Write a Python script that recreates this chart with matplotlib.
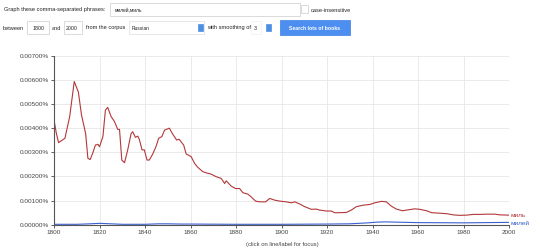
import matplotlib.pyplot as plt
from matplotlib.patches import Rectangle

plt.rcParams['font.family'] = ['Liberation Sans', 'DejaVu Sans']

# миль (red), values in percent
years_a = [1800, 1801, 1802, 1804.8, 1806.9, 1808.9, 1810.7, 1812.1, 1813.9, 1814.9,
           1815.9, 1817, 1818.2, 1819.3, 1820, 1821.5, 1822.6, 1823.6, 1825.1, 1826.6,
           1828, 1828.8, 1829.8, 1831, 1832.4, 1833.9, 1834.6, 1835.8, 1836.8, 1837.5,
           1838.7, 1839.7, 1840.9, 1841.9, 1843.4, 1844.8, 1846, 1847.4, 1848.6, 1850.7,
           1852, 1853.9, 1855, 1857, 1858.1, 1860.3, 1861.8, 1863.2, 1865.4, 1866.9,
           1869, 1871.3, 1873.5, 1875, 1875.7, 1877.9, 1879.8, 1881.6, 1883, 1885.2,
           1886.6, 1888.6, 1890.4, 1893, 1894.8, 1897, 1899.2, 1902.1, 1904.3, 1905.8,
           1908, 1910.2, 1913.1, 1915.3, 1916.7, 1919.7, 1921.9, 1923.3, 1925.6, 1928.5,
           1930.7, 1932.9, 1935.8, 1938.8, 1941, 1943.9, 1946.1, 1948.3, 1950.5, 1953.2,
           1955.7, 1958.6, 1960.8, 1963.8, 1966, 1969.6, 1972.6, 1975.5, 1978.4, 1981.4,
           1984.3, 1987.2, 1990.2, 1993.8, 1996, 2000]
vals_a = [0.00434, 0.0038, 0.0034, 0.00358, 0.00448, 0.00593, 0.0055, 0.00454, 0.00378, 0.00275,
          0.0027, 0.00296, 0.0033, 0.00333, 0.00323, 0.00365, 0.00475, 0.00486, 0.00448, 0.00427,
          0.00395, 0.00395, 0.00268, 0.00257, 0.0031, 0.00378, 0.00385, 0.00362, 0.00367, 0.00354,
          0.0031, 0.0031, 0.00268, 0.00268, 0.00293, 0.00323, 0.00358, 0.00365, 0.00392, 0.004,
          0.00378, 0.00351, 0.00354, 0.0033, 0.00293, 0.00282, 0.00254, 0.00238, 0.0022, 0.00215,
          0.0021, 0.00199, 0.00192, 0.00171, 0.00182, 0.0016, 0.0015, 0.0015, 0.00133, 0.00127,
          0.00116, 0.00098, 0.00095, 0.00095, 0.00109, 0.00102, 0.00098, 0.00095, 0.00091, 0.00095,
          0.00086, 0.00075, 0.00064, 0.00065, 0.00061, 0.00057, 0.00057, 0.0005, 0.0005, 0.00051,
          0.00061, 0.00075, 0.00081, 0.00084, 0.00091, 0.00097, 0.00095, 0.00077, 0.00065, 0.00058,
          0.00062, 0.00066, 0.00064, 0.00058, 0.0005, 0.00048, 0.00046, 0.00041, 0.00039, 0.0004,
          0.00043, 0.00043, 0.00044, 0.00044, 0.00041, 0.0004]

# милей (blue)
years_b = [1800, 1810, 1816, 1820, 1825, 1830, 1840, 1846, 1850, 1856, 1860, 1880,
           1900, 1920, 1930, 1938, 1942, 1946, 1950, 1960, 1980, 2000]
vals_b = [0.00002, 0.00002, 0.00004, 0.00006, 0.00004, 0.00002, 0.00002, 0.00004, 0.00004, 0.00003,
          0.00003, 0.00002, 0.00002, 0.00003, 0.00004, 0.00008, 0.00011, 0.00012, 0.00011, 0.00009,
          0.00008, 0.0001]

y_ticks = [0, 0.001, 0.002, 0.003, 0.004, 0.005, 0.006, 0.007]
x_ticks = [1800, 1820, 1840, 1860, 1880, 1900, 1920, 1940, 1960, 1980, 2000]

red = '#b3373a'
blue = '#3a5fcd'
fs = 4.6
hs = 4.1  # header font size

fig = plt.figure(figsize=(5.4, 2.52), dpi=100)
ax = fig.add_axes([0.1, 0.108, 0.8426, 0.671])

ax.plot(years_a, vals_a, color=red, lw=0.8)
ax.plot(years_b, vals_b, color=blue, lw=0.8)
ax.set_xlim(1800, 2000)
ax.set_ylim(0, 0.007)
ax.set_xticks(x_ticks)
ax.set_yticks(y_ticks)
ax.set_yticklabels(['%.5f%%' % v for v in y_ticks])
ax.tick_params(labelsize=fs, colors='#444444', length=2, width=0.6, pad=1.5)
ax.grid(True, color='#e6e6e6', lw=0.6)
ax.set_axisbelow(True)
for s in ['top', 'right']:
    ax.spines[s].set_visible(False)
for s in ['left', 'bottom']:
    ax.spines[s].set_color('#555555')
    ax.spines[s].set_linewidth(0.8)

ax.text(2000.8, vals_a[-1], 'миль', color=red, fontsize=fs, va='center', ha='left')
ax.text(2000.8, vals_b[-1] - 0.00003, 'милей', color=blue, fontsize=fs, va='center', ha='left')

fig.text(0.522, 0.03, '(click on line/label for focus)', fontsize=fs - 0.4,
         color='#444444', ha='center', va='center')

# header form
def px(x, y):
    return x / 540, 1 - y / 252

def box(x0, y0, w, h, fc='white', ec='#cccccc'):
    fig.patches.append(Rectangle(px(x0, y0 + h), w / 540, h / 252, transform=fig.transFigure,
                                 fc=fc, ec=ec, lw=0.5))

fig.text(*px(4, 10), 'Graph these comma-separated phrases:', fontsize=hs, va='center', color='#222222')
box(110, 3, 190, 13)
fig.text(*px(115, 10), 'милей,миль', fontsize=hs - 0.6, va='center', color='#222222')
box(301, 5, 7, 8)
fig.text(*px(311, 10), 'case-insensitive', fontsize=hs, va='center', color='#222222')

fig.text(*px(3, 28), 'between', fontsize=hs, va='center', color='#222222')
box(27, 21, 22, 13)
fig.text(*px(33, 28), '1800', fontsize=hs - 0.3, va='center', color='#222222')
fig.text(*px(52, 28), 'and', fontsize=hs, va='center', color='#222222')
box(64, 21, 18, 13)
fig.text(*px(66, 28), '2000', fontsize=hs - 0.3, va='center', color='#222222')
fig.text(*px(86, 28), 'from the corpus', fontsize=hs, va='center', color='#222222')
box(129, 21, 75, 13, ec='#dddddd')
fig.text(*px(132, 28), 'Russian', fontsize=hs - 0.6, va='center', color='#222222')
box(198, 24, 5, 7, fc='#4f8fe0', ec='#4f8fe0')
fig.text(*px(207, 28), 'with smoothing of', fontsize=hs, va='center', color='#222222')
box(251, 21, 10, 13, ec='#eeeeee')
fig.text(*px(254, 28), '3', fontsize=hs - 0.3, va='center', color='#222222')
box(266, 24, 5, 7, fc='#4f8fe0', ec='#4f8fe0')
box(280, 20, 70, 15, fc='#4d8ff0', ec='#3f7fe0')
fig.text(*px(315, 28), 'Search lots of books', fontsize=hs - 0.4, va='center', ha='center',
         color='white', fontweight='bold')

fig.savefig('out.png', dpi=100)
